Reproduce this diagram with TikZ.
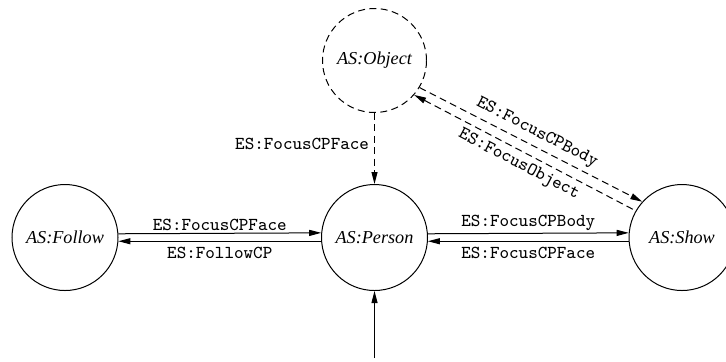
\documentclass[tikz,border=0pt]{standalone}
\usepackage{fontspec}
\setmainfont{Liberation Serif}
\usetikzlibrary{arrows.meta}
\begin{document}
\begin{tikzpicture}[x=0.5pt,y=-0.5pt,
  state/.style={circle,draw,line width=0.5pt,minimum size=53pt,inner sep=0pt,
    font=\fontsize{9.1}{11}\selectfont\itshape},
  lbl/.style={font=\fontsize{9.1}{11}\selectfont\ttfamily,inner sep=2.5pt},
  lblup/.style={lbl,inner sep=1.3pt},
  arr/.style={line width=0.5pt},
  fwd/.style={-{Triangle[length=6pt,width=3pt]}},
  bwd/.style={{Triangle[length=6pt,width=3pt]}-},
  dsh/.style={dash pattern=on 3.5pt off 2.2pt}]
\useasboundingbox (0,0) rectangle (726,361);
\node[state] (fol) at (65,237.5) {AS:Follow};
\node[state] (per) at (374.5,237.5) {AS:Person};
\node[state] (sho) at (682,237.5) {AS:Show};
\node[state,dsh,minimum size=52pt] (obj) at (374.5,60.5) {AS:Object};
\coordinate (src) at (374.5,358);

\draw[arr,fwd] (fol.4.5) -- node[lblup,above]{ES:FocusCPFace} (per.175.5);
\draw[arr,bwd] (fol.-4.5) -- node[lbl,below]{ES:FollowCP} (per.184.5);
\draw[arr,fwd] (per.4.5) -- node[lblup,above]{ES:FocusCPBody} (sho.175.5);
\draw[arr,bwd] (per.-4.5) -- node[lbl,below]{ES:FocusCPFace} (sho.184.5);
\draw[arr,fwd,dsh] (obj.south) -- node[lbl,left,pos=0.44]{ES:FocusCPFace} (per.north);
\draw[arr,fwd,dsh] (obj.-31) -- node[lbl,sloped,above]{ES:FocusCPBody} (sho.138);
\draw[arr,bwd,dsh] (obj.-41) -- node[lbl,sloped,below]{ES:FocusObject} (sho.150);
\draw[arr,fwd] (src) -- (per.south);
\end{tikzpicture}
\end{document}
